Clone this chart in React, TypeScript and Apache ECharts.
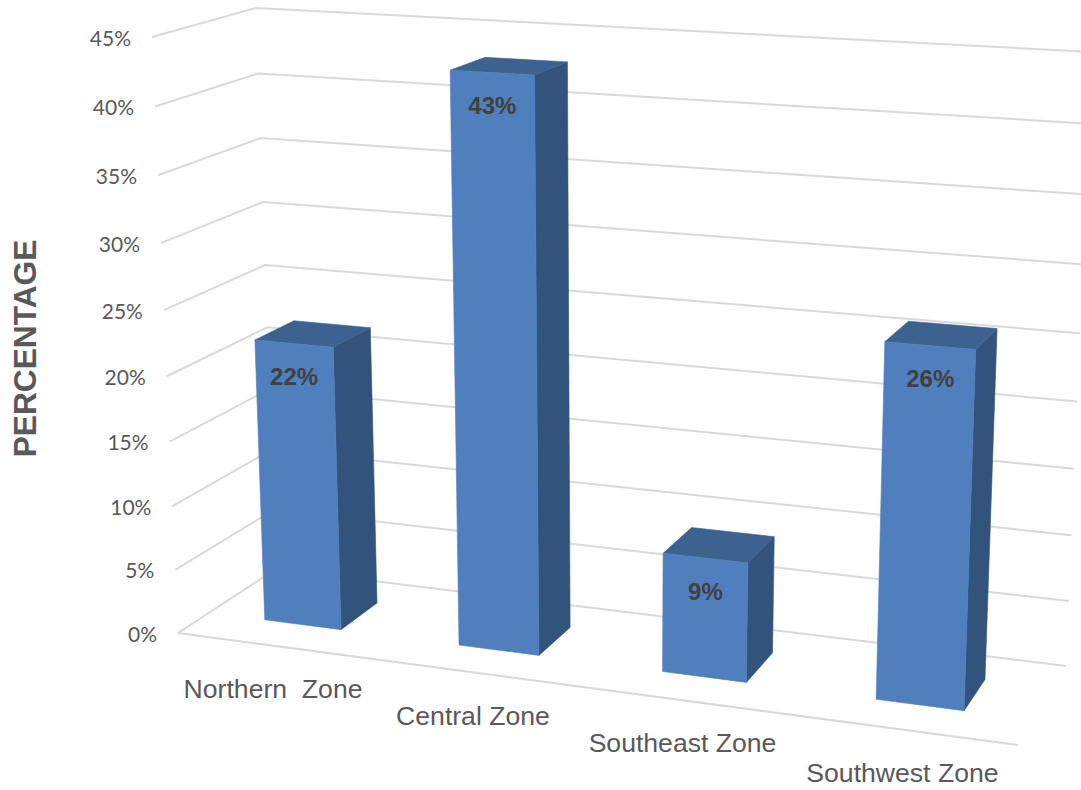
import React, { useEffect, useRef } from "react";
import * as echarts from "echarts";

const categories = ["Northern  Zone", "Central Zone", "Southeast Zone", "Southwest Zone"];
const shares = [22, 43, 9, 26];
const yTicks = [0, 5, 10, 15, 20, 25, 30, 35, 40, 45];
const yTickLabels = ["0%", "5%", "10%", "15%", "20%", "25%", "30%", "35%", "40%", "45%"];

// Corners of the 3D plot box on screen: F/B = front/back, L/R = left/right, B/T = bottom/top.
type Pt = [number, number];
const FLB: Pt = [178, 633];
const FRB: Pt = [1018, 745];
const BLB: Pt = [276, 569];
const BRB: Pt = [1066, 666];
const FLT: Pt = [152, 37];
const FRT: Pt = [1042, 85];
const BLT: Pt = [256, 8];
const BRT: Pt = [1092, 52];

const mix = (a: Pt, b: Pt, k: number): Pt => [a[0] + (b[0] - a[0]) * k, a[1] + (b[1] - a[1]) * k];
// Foreshortening along an axis of the box.
const fore = (t: number, k: number) => t / (t + k * (1 - t));

// t: across the categories, d: depth into the box, v: height; all in 0..1.
const project = (t: number, d: number, v: number): Pt => {
  const u = fore(t, 1.1);
  const h = fore(v, 1.057);
  const bottom = mix(mix(FLB, FRB, u), mix(BLB, BRB, u), d);
  const top = mix(mix(FLT, FRT, u), mix(BLT, BRT, u), d);
  return mix(bottom, top, h);
};

const BAR_LEFT_BAND = 0.206;
const BAR_RIGHT_BAND = 0.192;
const BAR_DEPTH_FRONT = 0.32;
const BAR_DEPTH_BACK = 0.72;
const SANS = '"Liberation Sans", Arial, sans-serif';

const renderGridLine = (params: any, api: any) => {
  const cs = params.coordSys;
  const value = api.value(1);
  const v = (cs.y + cs.height - api.coord([0, value])[1]) / cs.height;
  const frontLeft = project(0, 0, v);
  const children: any[] = [
    {
      type: "polyline",
      shape: { points: [frontLeft, project(0, 1, v), project(1, 1, v)] },
      style: { stroke: "#D9D9D9", lineWidth: 2, fill: "none" },
    },
    {
      type: "text",
      style: {
        text: yTickLabels[params.dataIndex],
        x: frontLeft[0] - 21,
        y: frontLeft[1],
        align: "right",
        verticalAlign: "middle",
        fill: "#595959",
        font: "21px Lato, sans-serif",
      },
    },
  ];
  if (value === 0) {
    children.push({
      type: "line",
      shape: { x1: FLB[0], y1: FLB[1], x2: FRB[0], y2: FRB[1] },
      style: { stroke: "#D9D9D9", lineWidth: 2 },
    });
  }
  return { type: "group", children };
};

const renderBar = (params: any, api: any) => {
  const cs = params.coordSys;
  const idx = api.value(0);
  const value = api.value(1);
  const band = api.size([1, 0])[0];
  const [cx, cy] = api.coord([idx, value]);
  const tc = (cx - cs.x) / cs.width;
  const v = (cs.y + cs.height - cy) / cs.height;
  const t0 = tc - (band * BAR_LEFT_BAND) / cs.width;
  const t1 = tc + (band * BAR_RIGHT_BAND) / cs.width;
  const d0 = BAR_DEPTH_FRONT;
  const d1 = BAR_DEPTH_BACK;

  const fl0 = project(t0, d0, 0);
  const fr0 = project(t1, d0, 0);
  const br0 = project(t1, d1, 0);
  const fl1 = project(t0, d0, v);
  const fr1 = project(t1, d0, v);
  const br1 = project(t1, d1, v);
  const bl1 = project(t0, d1, v);

  const labelAt = mix(fl1, fr1, 0.5);
  const axisAt = project(tc, 0, 0);

  const face = (points: Pt[], color: string) => ({
    type: "polygon",
    shape: { points },
    style: { fill: color, stroke: color, lineWidth: 0.6 },
  });

  return {
    type: "group",
    children: [
      face([fr1, br1, br0, fr0], "#31537C"),
      face([fl1, bl1, br1, fr1], "#3C628F"),
      face([fl1, fr1, fr0, fl0], "#4F80BD"),
      {
        type: "text",
        style: {
          text: `${value}%`,
          x: labelAt[0],
          y: labelAt[1] + 33,
          align: "center",
          verticalAlign: "middle",
          fill: "#404040",
          font: `bold 24px ${SANS}`,
        },
      },
      {
        type: "text",
        style: {
          text: categories[idx],
          x: axisAt[0] - 1.5,
          y: axisAt[1] + 43,
          align: "center",
          verticalAlign: "middle",
          fill: "#595959",
          font: `26.6px ${SANS}`,
        },
      },
    ],
  };
};

export default function App() {
  const ref = useRef<HTMLDivElement>(null);

  useEffect(() => {
    const chart = echarts.init(ref.current!, null, { renderer: "svg" });
    chart.setOption({
      animation: false,
      backgroundColor: "#FFFFFF",
      grid: { left: 0, top: 0, width: 1000, height: 700, containLabel: false },
      xAxis: { type: "category", data: categories, show: false },
      yAxis: { type: "value", min: 0, max: 45, interval: 5, show: false },
      graphic: [
        {
          type: "text",
          x: 25,
          y: 348.5,
          rotation: Math.PI / 2,
          style: {
            text: "PERCENTAGE",
            align: "center",
            verticalAlign: "middle",
            fill: "#595959",
            font: `bold 31.7px ${SANS}`,
          },
        },
      ],
      series: [
        {
          type: "custom",
          clip: false,
          silent: true,
          renderItem: renderGridLine,
          encode: { x: 0, y: 1 },
          data: yTicks.map((tick) => [0, tick]),
          z: 1,
        },
        {
          type: "custom",
          clip: false,
          silent: true,
          renderItem: renderBar,
          encode: { x: 0, y: 1 },
          data: shares.map((share, i) => [i, share]),
          z: 2,
        },
      ],
    });
    return () => chart.dispose();
  }, []);

  return (
    <div
      ref={ref}
      style={{ position: "absolute", left: 0, top: 0, width: 1081, height: 790, overflow: "hidden" }}
    />
  );
}
